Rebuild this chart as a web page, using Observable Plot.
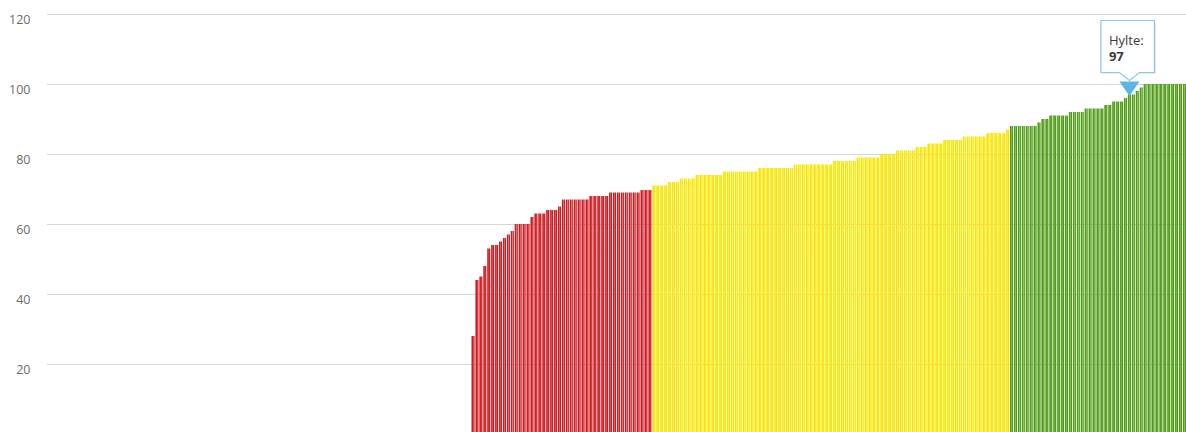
<!DOCTYPE html>
<html><head><meta charset="utf-8">
<script src="https://cdn.jsdelivr.net/npm/d3@7"></script>
<script src="https://cdn.jsdelivr.net/npm/@observablehq/plot@0.6"></script>
<style>
html,body{margin:0;padding:0;background:#fff;}
#chart{width:1186px;height:432px;overflow:hidden;position:relative;}
</style></head><body><div id="chart"></div>
<script>
// Total number of category slots on the x axis (municipalities); the leftmost ones have no value
const TOTAL_SLOTS = 290;
// Sorted values of the municipalities that have data
const redValues = [28,44,45,48,53,54,54,55,56,57,58,60,60,60,60,62,63,63,63,64,64,64,65,
  67,67,67,67,67,67,67,68,68,68,68,68,69,69,69,69,69,69,69,69,69.7,69.7,69.7];
const yellowValues = [71,71,71,71,72,72,72,73,73,73,73,74,74,74,74,74,74,74,
  75,75,75,75,75,75,75,75,75,76,76,76,76,76,76,76,76,76,77,77,77,77,77,77,77,77,77,77,
  78,78,78,78,78,78,79,79,79,79,79,79,80,80,80,80,81,81,81,81,81,82,82,82,
  83,83,83,83,84,84,84,84,84,85,85,85,85,85,85,86,86,86,86,86,87];
const greenValues = [88,88,88,88,88,88,88,89,90,90,91,91,91,91,91,92,92,92,92,
  93,93,93,93,93,94,94,95,95,95,96,97,97,98,99,100,100,100,100,100,100,100,100,100,100,100];
const values = [...redValues, ...yellowValues, ...greenValues];
const yTicks = [0, 20, 40, 60, 80, 100, 120];
const thresholds = [70, 88];
const highlightName = "Hylte";
const highlightRank = 167; // position of Hylte in values

const firstSlot = TOTAL_SLOTS - values.length;
const data = values.map((v, i) => ({slot: firstSlot + i, value: v}));

const plot = Plot.plot({
  width: 1186, height: 444,
  marginTop: 14, marginBottom: 10, marginLeft: 47, marginRight: 0,
  style: {fontFamily: "'Open Sans', sans-serif", fontSize: "12.5px", background: "#fff", color: "#6b6b6b", overflow: "visible"},
  x: {type: "band", domain: d3.range(TOTAL_SLOTS), paddingInner: 0.22, paddingOuter: 0, axis: null},
  y: {domain: [0, 120], ticks: yTicks, tickSize: 0, tickPadding: 17, label: null},
  color: {type: "threshold", domain: thresholds, range: ["url(#gRed)", "url(#gYellow)", "url(#gGreen)"]},
  marks: [
    Plot.ruleY(yTicks, {stroke: "#d6d6d6", strokeWidth: 1}),
    Plot.barY(data, {x: "slot", y: "value", fill: "value"})
  ]
});

const svg = d3.select(plot);
svg.selectAll('g[aria-label="y-axis tick label"] text, g[aria-label="y-axis"] text').attr("dy", "0.42em");
const defs = svg.insert("defs", ":first-child");
function grad(id, edge, mid) {
  const g = defs.append("linearGradient").attr("id", id).attr("x1", 0).attr("x2", 1).attr("y1", 0).attr("y2", 0);
  [[0, edge], [0.35, edge], [0.55, mid], [0.75, edge], [1, edge]].forEach(([o, c]) =>
    g.append("stop").attr("offset", o).attr("stop-color", c));
}
grad("gRed", "#cf1a22", "#e77a7c");
grad("gYellow", "#f7e500", "#fdf36a");
grad("gGreen", "#4f9a17", "#93c96a");

// Tooltip anchored on the highlighted bar via the plot's scales
const xs = plot.scale("x"), ys = plot.scale("y");
const hd = data[highlightRank];
const px = xs.apply(hd.slot) + xs.bandwidth / 2;
const py = ys.apply(hd.value);
const tip = svg.append("g").attr("font-family", "'Open Sans', sans-serif").attr("text-anchor", "start");
const bx0 = px - 28.5, bx1 = px + 25, by0 = py - 74, by1 = py - 22;
tip.append("rect").attr("x", bx0 + 1.5).attr("y", by0 + 1.5).attr("width", bx1 - bx0).attr("height", by1 - by0)
  .attr("fill", "#000").attr("opacity", 0.08);
tip.append("path")
  .attr("d", `M${bx0},${by0}H${bx1}V${by1}H${px + 10}L${px},${by1 + 8}L${px - 10},${by1}H${bx0}Z`)
  .attr("fill", "#fff").attr("stroke", "#86c9eb").attr("stroke-width", 1.2);
tip.append("path")
  .attr("d", `M${px - 10},${by1 + 9}L${px + 10},${by1 + 9}L${px},${py + 1.5}Z`)
  .attr("fill", "#5bb6e6");
tip.append("text").attr("x", bx0 + 8).attr("y", py - 49.5).attr("font-size", 13).attr("fill", "#3a3a3a")
  .attr("text-anchor", "start").text(highlightName + ":");
tip.append("text").attr("x", bx0 + 8).attr("y", py - 34).attr("font-size", 13).attr("font-weight", "bold").attr("fill", "#3a3a3a")
  .attr("text-anchor", "start").text(String(hd.value));

document.getElementById("chart").appendChild(plot);
</script>
</body></html>
